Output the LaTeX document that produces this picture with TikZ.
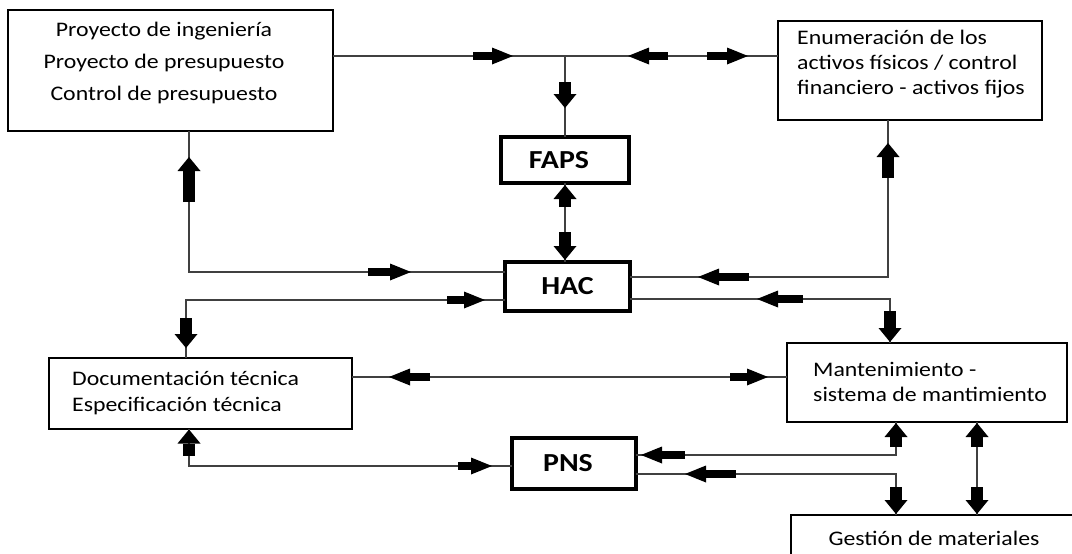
\documentclass[tikz,border=0pt]{standalone}
\usepackage{fontspec}
\setmainfont{Carlito}[FakeStretch=1.15]
\usetikzlibrary{arrows.meta, decorations.markings}

\tikzset{
  box/.style={draw, line width=1.4pt, rectangle, anchor=north west, inner sep=0pt, outer sep=0pt},
  hub/.style={draw, line width=4pt, rectangle, anchor=north west, inner sep=0pt, outer sep=0pt,
    font=\bfseries\fontsize{26}{30}\selectfont},
  txt/.style={inner sep=0pt, font=\fontsize{20.7}{25}\selectfont},
  ln/.style={draw=black!75, line width=1.3pt},
  hblk/.style={black, line width=8pt, -{Triangle[length=21pt,width=17pt,line width=0pt]}},
  vblk/.style={black, line width=12pt, -{Triangle[length=14pt,width=23pt,line width=0pt]}},
  fw/.style n args={3}{postaction={decorate,decoration={markings,
    mark=at position #1 with {\draw[#3] (-#2,0) -- (0,0);}}}},
  bw/.style n args={3}{postaction={decorate,decoration={markings,
    mark=at position #1 with {\draw[#3] (#2,0) -- (0,0);}}}},
}

\begin{document}
\begin{tikzpicture}[x=1pt, y=-1pt]
\useasboundingbox (0,0) rectangle (1072,554);
\clip (0,0) rectangle (1072,554);

% boxes
\node[box, minimum width=325pt, minimum height=121pt] (proy) at (8,10) {};
\node[box, minimum width=264pt, minimum height=99pt] (enum) at (778,21) {};
\node[hub, minimum width=128pt, minimum height=46pt] (faps) at (501,137) {FAPS\hspace*{12pt}};
\node[hub, minimum width=125pt, minimum height=49pt] (hac) at (505,262) {HAC};
\node[box, minimum width=303pt, minimum height=71pt] (doc) at (49,358) {};
\node[box, minimum width=280pt, minimum height=79pt] (mant) at (787,343) {};
\node[hub, minimum width=124pt, minimum height=51pt] (pns) at (512,438) {PNS\hspace*{12pt}};
\node[box, minimum width=286pt, minimum height=46pt, txt] (gest) at (791,515) {Gestión de materiales};

% texts
\node[txt, align=center, font=\fontsize{20.7}{32}\selectfont] (proyT) at (164,63)
  {Proyecto de ingeniería\\Proyecto de presupuesto\\Control de presupuesto};
\node[txt, align=left, anchor=west] (enumT) at (797,64)
  {Enumeración de los\\activos físicos / control\\financiero - activos fijos};
\node[txt, align=left, anchor=west, font=\fontsize{20.7}{26}\selectfont] (docT) at (72,393)
  {Documentación técnica\\Especificación técnica};
\node[txt, align=left, anchor=west] (mantT) at (813,381.5)
  {Mantenimiento -\\sistema de mantimiento};

% connectors
\draw[ln, fw={180pt}{40pt}{hblk}, bw={295pt}{40pt}{hblk}, fw={415pt}{41pt}{hblk}]
  ([yshift=-46pt]proy.north east) coordinate (c1) -- (c1 -| enum.west);
\draw[ln, fw={52pt}{26pt}{vblk}] (c1 -| faps.north) -- (faps.north);
\draw[ln, bw={2pt}{22pt}{vblk}, fw={77pt}{28pt}{vblk}] (faps.south) -- (faps.south |- hac.north);

\draw[ln, bw={94pt}{43pt}{hblk}, fw={431pt}{45pt}{vblk}]
  ([yshift=-10pt]hac.north west) -| ([xshift=18.5pt]proy.south);
\draw[ln, bw={20pt}{38pt}{hblk}, fw={367pt}{30pt}{vblk}]
  ([yshift=-38pt]hac.north west) -| ([xshift=-14.5pt]doc.north);
\draw[ln, bw={68pt}{51pt}{hblk}, fw={392pt}{35pt}{vblk}]
  ([yshift=-15pt]hac.north east) -| ([xshift=-22pt]enum.south);
\draw[ln, bw={127pt}{46pt}{hblk}, fw={303pt}{31pt}{vblk}]
  ([yshift=-37pt]hac.north east) -| ([xshift=-37pt]mant.north);

\draw[ln, bw={37pt}{41pt}{hblk}, fw={416pt}{38pt}{hblk}]
  ([yshift=-19pt]doc.north east) coordinate (c8) -- (c8 -| mant.west);
\draw[ln, bw={0.5pt}{26pt}{vblk}, fw={340pt}{34pt}{hblk}]
  ([xshift=-11.5pt]doc.south) |- ([yshift=-28pt]pns.north west);

\draw[ln, bw={5pt}{44pt}{hblk}, fw={292pt}{24pt}{vblk}]
  ([yshift=-17pt]pns.north east) -| ([xshift=-31pt]mant.south);
\draw[ln, bw={49pt}{51pt}{hblk}, fw={300pt}{27pt}{vblk}]
  ([yshift=-36pt]pns.north east) -| ([xshift=105pt]gest.north west);
\draw[ln, bw={1pt}{24pt}{vblk}, fw={92pt}{27pt}{vblk}]
  ([xshift=50pt]mant.south) coordinate (c12) -- (c12 |- gest.north);
\end{tikzpicture}
\end{document}
